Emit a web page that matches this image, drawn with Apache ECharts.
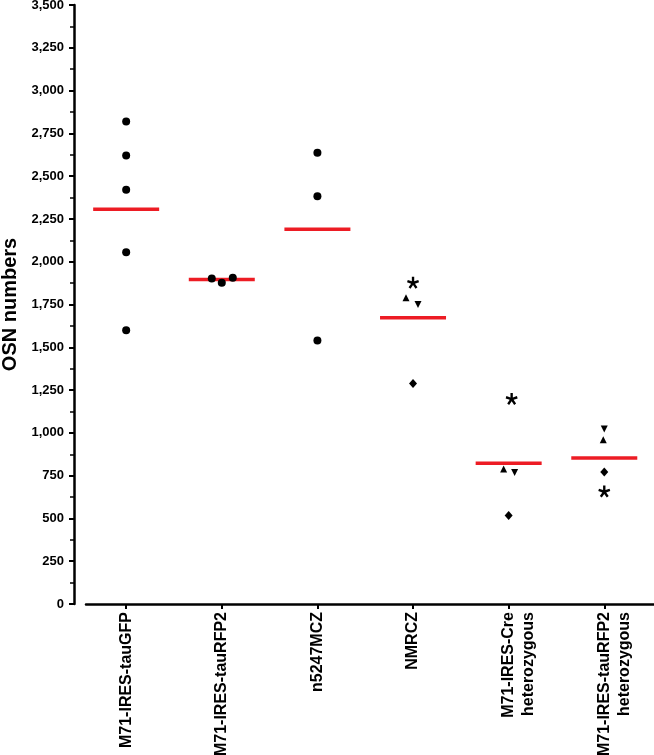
<!DOCTYPE html>
<html>
<head>
<meta charset="utf-8">
<script src="https://cdn.jsdelivr.net/npm/echarts@6/dist/echarts.min.js"></script>
<style>html,body{margin:0;padding:0;background:#fff}#c{width:654px;height:755px}</style>
</head>
<body>
<div id="c"></div>
<script>
// ---- data ----
const categories = ['M71-IRES-tauGFP', 'M71-IRES-tauRFP2', 'n5247MCZ', 'NMRCZ', 'M71-IRES-Cre\nheterozygous', 'M71-IRES-tauRFP2\nheterozygous'];
const yTicks = [0, 250, 500, 750, 1000, 1250, 1500, 1750, 2000, 2250, 2500, 2750, 3000, 3250, 3500];
// circle-marked animals, per category (first three groups)
const circleValues = [
  [2819, 2620, 2421, 2056, 1600],
  [1902, 1877, 1906],
  [2636, 2382, 1539]
];
// individual animals in groups 4-6 (null = not present)
const starValues      = [null, null, null, 1877, 1198, 657];
const triUpValues     = [null, null, null, 1789, 789, 960];
const triDownValues   = [null, null, null, 1750, 768, 1022];
const diamondValues   = [null, null, null, 1288, 517, 771];
const meanValues      = [2306, 1896, 2189, 1672, 823, 853];

// ---- styling (horizontal jitter in px) ----
const circleJitter = [[0,0,0,0,0],[-10,0,11],[0,0,0]];
const starJitter    = [0,0,0,0,3,0];
const triUpJitter   = [0,0,0,-7,-5,-1];
const triDownJitter = [0,0,0,5,6,0];
const diamondJitter = [0,0,0,0,0,0];

function starPath(){
  const w = 0.2, L = 1, r = w / Math.sin(36*Math.PI/180);
  let pts = [];
  for (let k = 0; k < 5; k++) {
    const t = (-90 + 72*k) * Math.PI/180;
    const ti = t - 36*Math.PI/180;
    pts.push([r*Math.cos(ti), r*Math.sin(ti)]);
    const dx = Math.cos(t), dy = Math.sin(t), px = -dy, py = dx;
    pts.push([L*dx - w*px, L*dy - w*py]);
    pts.push([L*dx + w*px, L*dy + w*py]);
  }
  return 'path://M' + pts.map(p => (p[0]*10+10).toFixed(3)+','+(p[1]*10+10).toFixed(3)).join('L') + 'Z';
}

function pts(vals, jit){
  const out = [];
  vals.forEach((v,i)=>{ if(v!=null) out.push({value:[i,v], symbolOffset:[jit[i],0]}); });
  return out;
}
const circleData = [];
circleValues.forEach((arr,i)=>arr.forEach((v,j)=>circleData.push({value:[i,v], symbolOffset:[circleJitter[i][j],0]})));

const FONT = 'Liberation Sans, Arial, Helvetica, sans-serif';
const chart = echarts.init(document.getElementById('c'), null, {renderer:'canvas'});
const idx = categories.map((c,i)=>i);
const black = {color:'#000', opacity:1};
chart.setOption({
  animation:false,
  backgroundColor:'#fff',
  grid:{left:86, right:0, top:5, bottom:151, containLabel:false, outerBoundsMode:'none'},
  xAxis:{
    type:'value', min:-0.42, max:5.52,
    axisLine:{show:true, onZero:true, lineStyle:{color:'#000', width:2.5}},
    axisTick:{show:true, customValues:idx, length:5, lineStyle:{color:'#000', width:2}},
    axisLabel:{show:true, customValues:idx, rotate:90, margin:8, fontFamily:FONT, fontWeight:'bold', fontSize:16, color:'#000', lineHeight:20,
      formatter:function(v){ const s = categories[Math.round(v)]; return s.indexOf('\n')>=0 ? '\n'+s : s; }},
    splitLine:{show:false}
  },
  yAxis:{
    type:'value', min:yTicks[0], max:yTicks[yTicks.length-1], interval:yTicks[1]-yTicks[0], offset:12,
    name:'OSN numbers', nameLocation:'middle', nameRotate:90, nameGap:54,
    nameTextStyle:{fontFamily:FONT, fontWeight:'bold', fontSize:20, color:'#000'},
    axisLine:{show:true, onZero:false, lineStyle:{color:'#000', width:2.5}},
    axisTick:{show:true, length:5, lineStyle:{color:'#000', width:2}},
    minorTick:{show:true, splitNumber:2, length:4, lineStyle:{color:'#000', width:1.5}},
    axisLabel:{margin:10, fontFamily:FONT, fontWeight:'bold', fontSize:13, color:'#000',
      formatter:function(v){ return v.toLocaleString('en-US'); }},
    splitLine:{show:false}, minorSplitLine:{show:false}
  },
  series:[
    {type:'scatter', name:'mean', data:meanValues.map((v,i)=>[i,v]), symbol:'rect', symbolSize:[66,3.5], itemStyle:{color:'#ED1C24', opacity:1}, z:1},
    {type:'scatter', data:circleData, symbol:'circle', symbolSize:8, itemStyle:black, z:2},
    {type:'scatter', data:pts(starValues, starJitter), symbol:starPath(), symbolSize:12, itemStyle:black, z:2},
    {type:'scatter', data:pts(triUpValues, triUpJitter), symbol:'triangle', symbolSize:7, itemStyle:black, z:2},
    {type:'scatter', data:pts(triDownValues, triDownJitter), symbol:'triangle', symbolRotate:180, symbolSize:7, itemStyle:black, z:2},
    {type:'scatter', data:pts(diamondValues, diamondJitter), symbol:'diamond', symbolSize:[8,9], itemStyle:black, z:2}
  ]
});
</script>
</body>
</html>
